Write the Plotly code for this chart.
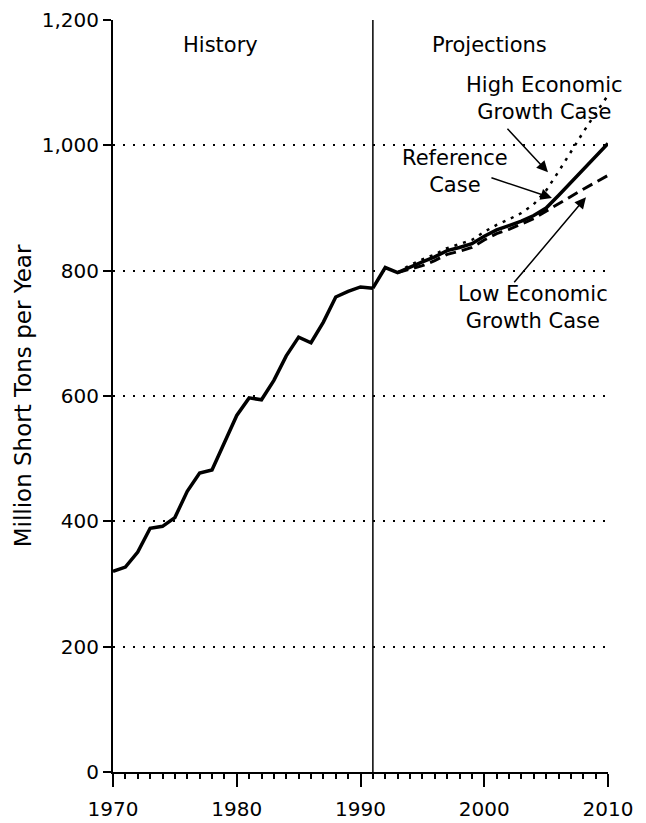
import plotly.graph_objects as go

# ---------------- data ----------------
hist_years = [1970, 1971, 1972, 1973, 1974, 1975, 1976, 1977, 1978, 1979, 1980,
              1981, 1982, 1983, 1984, 1985, 1986, 1987, 1988, 1989, 1990, 1991]
hist_values = [320, 327, 351, 389, 392, 406, 448, 477, 482, 527, 569,
               597, 594, 625, 664, 694, 685, 718, 758, 767, 774, 772]

ref_years = [1991, 1992, 1993, 1994, 1995, 1996, 1997, 1998, 1999, 2000,
             2001, 2002, 2003, 2004, 2005, 2006, 2007, 2008, 2009, 2010]
ref_values = [772, 805, 797, 806, 814, 822, 832, 837, 843, 855,
              865, 872, 879, 888, 900, 920, 941, 961, 982, 1003]

case_years = [1993, 1994, 1995, 1996, 1997, 1998, 1999, 2000, 2001,
              2002, 2003, 2004, 2005, 2006, 2007, 2008, 2009, 2010]
low_values = [797, 802, 808, 816, 826, 831, 837, 849, 859,
              866, 874, 883, 895, 907, 918, 930, 941, 952]
high_values = [797, 809, 818, 826, 836, 842, 849, 862, 873,
               882, 892, 906, 928, 958, 990, 1021, 1051, 1080]

divider_year = 1991
y_title = "Million Short Tons per Year"

FONT = "DejaVu Sans, Liberation Sans, Arial, sans-serif"
TICK_FS = 20
LABEL_FS = 21
TITLE_FS = 23

fig = go.Figure()

fig.add_trace(go.Scatter(x=case_years, y=high_values, mode="lines",
                         line=dict(color="black", width=2.5, dash="3px,6px"),
                         showlegend=False, hoverinfo="skip"))
fig.add_trace(go.Scatter(x=case_years, y=low_values, mode="lines",
                         line=dict(color="black", width=3, dash="11px,6px"),
                         showlegend=False, hoverinfo="skip"))
fig.add_trace(go.Scatter(x=hist_years, y=hist_values, mode="lines",
                         line=dict(color="black", width=3.5),
                         showlegend=False, hoverinfo="skip"))
fig.add_trace(go.Scatter(x=ref_years, y=ref_values, mode="lines",
                         line=dict(color="black", width=3.5),
                         showlegend=False, hoverinfo="skip"))

# divider between history and projections
fig.add_shape(type="line", xref="x", yref="y", x0=divider_year, x1=divider_year,
              y0=0, y1=1200, line=dict(color="black", width=1.5), layer="above")

lab_font = dict(family=FONT, size=LABEL_FS, color="black")

# section labels
fig.add_annotation(x=1978.7, y=1160, text="History", showarrow=False, font=lab_font)
fig.add_annotation(x=2000.4, y=1160, text="Projections", showarrow=False, font=lab_font)

# case labels
fig.add_annotation(x=2004.9, y=1074, text="High Economic<br>Growth Case", showarrow=False,
                   font=lab_font, align="center")
fig.add_annotation(x=1997.6, y=958, text="Reference<br>Case", showarrow=False,
                   font=lab_font, align="center")
fig.add_annotation(x=2003.9, y=742, text="Low Economic<br>Growth Case", showarrow=False,
                   font=lab_font, align="center")

# arrows (head x, head y, tail x, tail y)
arrows = [
    (2005.15, 957, 2001.76, 1029),
    (2005.47, 916, 2000.46, 949),
    (2008.22, 917, 2002.32, 779),
]
for hx, hy, tx, ty in arrows:
    fig.add_annotation(x=hx, y=hy, ax=tx, ay=ty, xref="x", yref="y", axref="x", ayref="y",
                       text="", showarrow=True, arrowhead=2, arrowsize=1.5,
                       arrowwidth=1.5, arrowcolor="black", standoff=0, startstandoff=0)

# page body has an 8px margin, so the plot area is offset by 8px on screen
fig.update_layout(
    width=646, height=823,
    margin=dict(l=105, r=46, t=12, b=59, autoexpand=False),
    paper_bgcolor="white", plot_bgcolor="white",
    font=dict(family=FONT, size=TICK_FS, color="black"),
    showlegend=False,
)

fig.update_xaxes(
    range=[1970, 2010], tickmode="linear", tick0=1970, dtick=10,
    showline=True, linecolor="black", linewidth=2,
    ticks="outside", ticklen=13, tickwidth=1.5, tickcolor="black",
    ticklabelstandoff=5, automargin=False,
    minor=dict(ticks="outside", dtick=1, tick0=1970, ticklen=5, tickwidth=1.5, tickcolor="black"),
    showgrid=False, zeroline=False,
    tickfont=dict(family=FONT, size=TICK_FS, color="black"),
)
fig.update_yaxes(
    range=[0, 1200], tickmode="linear", tick0=0, dtick=200, tickformat=",",
    showline=True, linecolor="black", linewidth=2,
    ticks="outside", ticklen=8, tickwidth=1.5, tickcolor="black",
    showgrid=True, gridcolor="black", gridwidth=1.5, griddash="2px,8px",
    zeroline=False, automargin=False,
    title=dict(text=y_title, font=dict(family=FONT, size=TITLE_FS, color="black"), standoff=4),
    tickfont=dict(family=FONT, size=TICK_FS, color="black"),
)

fig.write_html("out.html")
